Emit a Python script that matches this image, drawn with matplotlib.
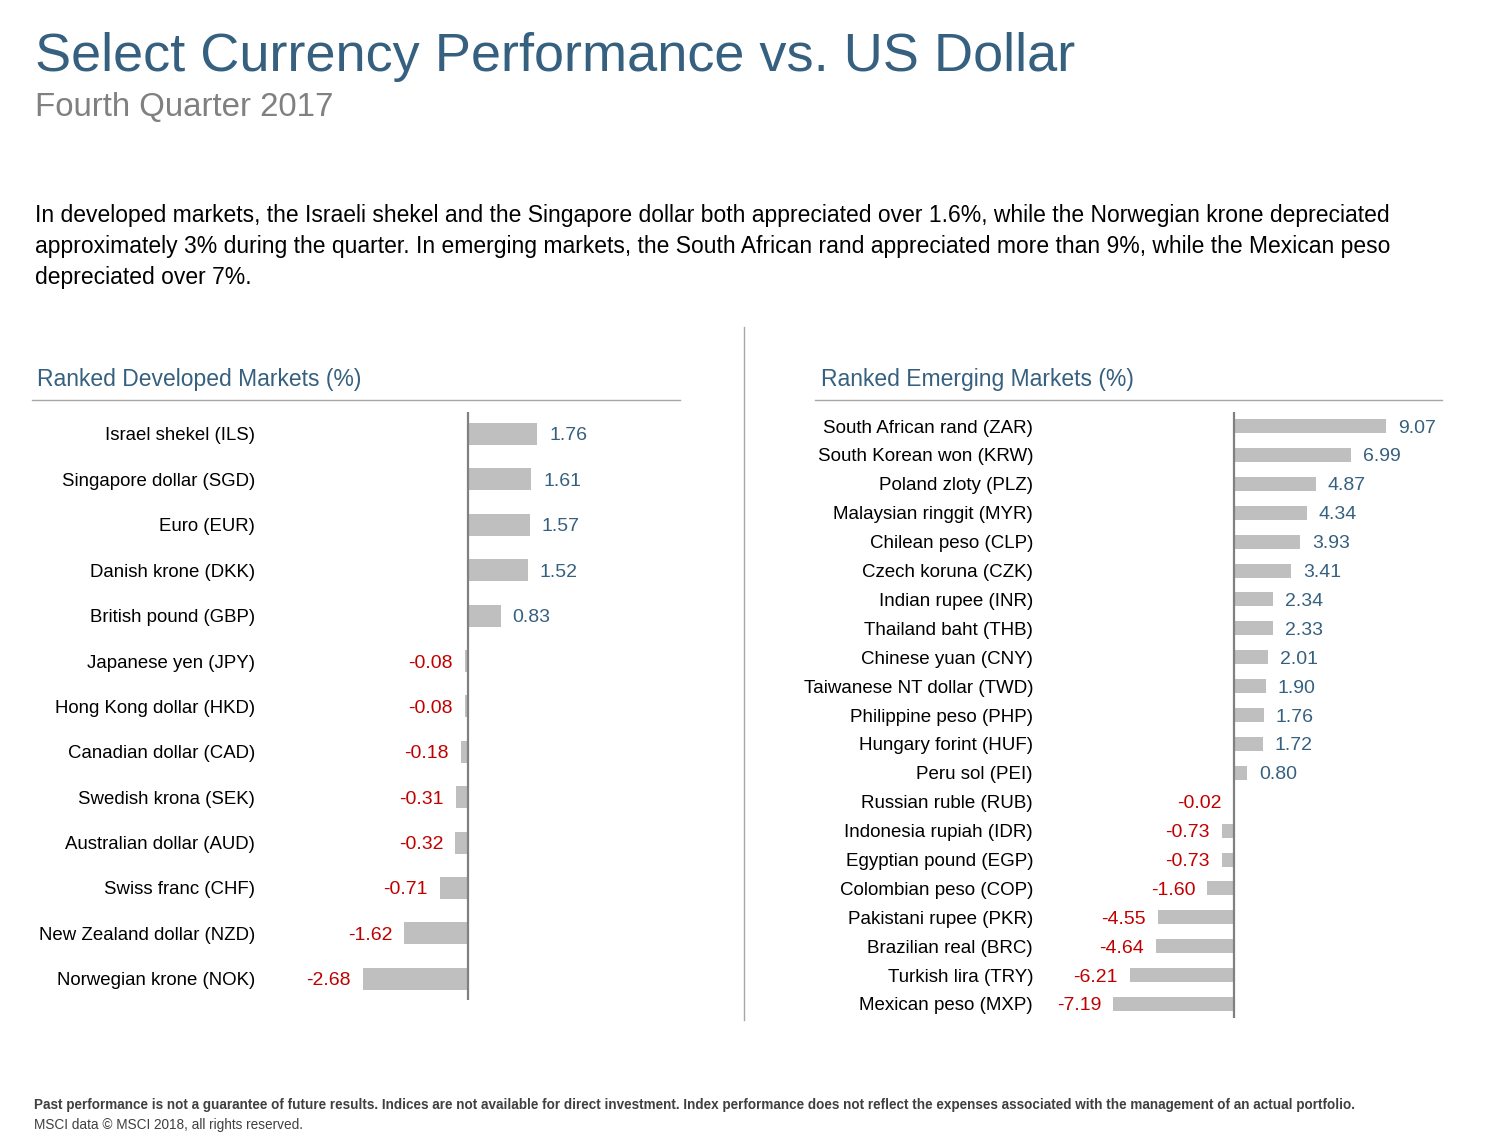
import matplotlib
matplotlib.use("Agg")
import matplotlib.pyplot as plt
from matplotlib.transforms import blended_transform_factory

plt.rcParams['font.family'] = ['Liberation Sans', 'DejaVu Sans']

# data
dev_names = ["Israel shekel (ILS)", "Singapore dollar (SGD)", "Euro (EUR)", "Danish krone (DKK)",
             "British pound (GBP)", "Japanese yen (JPY)", "Hong Kong dollar (HKD)", "Canadian dollar (CAD)",
             "Swedish krona (SEK)", "Australian dollar (AUD)", "Swiss franc (CHF)",
             "New Zealand dollar (NZD)", "Norwegian krone (NOK)"]
dev_vals = [1.76, 1.61, 1.57, 1.52, 0.83, -0.08, -0.08, -0.18, -0.31, -0.32, -0.71, -1.62, -2.68]

em_names = ["South African rand (ZAR)", "South Korean won (KRW)", "Poland zloty (PLZ)",
            "Malaysian ringgit (MYR)", "Chilean peso (CLP)", "Czech koruna (CZK)", "Indian rupee (INR)",
            "Thailand baht (THB)", "Chinese yuan (CNY)", "Taiwanese NT dollar (TWD)",
            "Philippine peso (PHP)", "Hungary forint (HUF)", "Peru sol (PEI)", "Russian ruble (RUB)",
            "Indonesia rupiah (IDR)", "Egyptian pound (EGP)", "Colombian peso (COP)",
            "Pakistani rupee (PKR)", "Brazilian real (BRC)", "Turkish lira (TRY)", "Mexican peso (MXP)"]
em_vals = [9.07, 6.99, 4.87, 4.34, 3.93, 3.41, 2.34, 2.33, 2.01, 1.90, 1.76, 1.72, 0.80,
           -0.02, -0.73, -0.73, -1.60, -4.55, -4.64, -6.21, -7.19]

W, H = 1504, 1144
BLUE = "#36607f"
RED = "#c00000"
GREY_BAR = "#bfbfbf"

fig = plt.figure(figsize=(W / 100, H / 100), dpi=100)


def fx(x):
    return x / W


def fy(y):
    return 1 - y / H


# header
fig.text(fx(35), fy(71), "Select Currency Performance vs. US Dollar", fontsize=39,
         color=BLUE, va='baseline')
fig.text(fx(35), fy(116), "Fourth Quarter 2017", fontsize=23.8, color="#808080", va='baseline')

body = ["In developed markets, the Israeli shekel and the Singapore dollar both appreciated over 1.6%, while the Norwegian krone depreciated",
        "approximately 3% during the quarter. In emerging markets, the South African rand appreciated more than 9%, while the Mexican peso",
        "depreciated over 7%."]
for i, line in enumerate(body):
    fig.text(fx(35), fy(222 + 31 * i), line, fontsize=16.45, color="#000000", va='baseline')

# panel headings and rules
fig.text(fx(37), fy(386), "Ranked Developed Markets (%)", fontsize=16.5, color=BLUE, va='baseline')
fig.text(fx(821), fy(386), "Ranked Emerging Markets (%)", fontsize=16.5, color=BLUE, va='baseline')
fig.add_artist(plt.Line2D([fx(32), fx(680)], [fy(400), fy(400)], color="#a6a6a6", lw=1))
fig.add_artist(plt.Line2D([fx(815), fx(1442)], [fy(400), fy(400)], color="#a6a6a6", lw=1))
fig.add_artist(plt.Line2D([fx(744), fx(744)], [fy(327), fy(1020)], color="#a6a6a6", lw=1))


def panel(names, vals, x0, top, bottom, first, step, ppu, xlim, bar_px, label_x, fs, vfs):
    n = len(vals)
    left = x0 + xlim[0] * ppu
    width = (xlim[1] - xlim[0]) * ppu
    ax = fig.add_axes([fx(left), fy(bottom), width / W, (bottom - top) / H])
    ytop = -(first - top) / step
    ybot = (n - 1) + (bottom - (first + step * (n - 1))) / step
    ax.set_xlim(*xlim)
    ax.set_ylim(ybot, ytop)
    ax.barh(range(n), vals, height=bar_px / step, color=GREY_BAR, zorder=1)
    ax.axvline(0, color="#808080", lw=1.6, zorder=2)
    off = 12 / ppu
    for i, v in enumerate(vals):
        if v >= 0:
            ax.text(v + off, i, f"{v:.2f}", color=BLUE, fontsize=vfs, va='center_baseline', ha='left')
        else:
            ax.text(v - off, i, f"{v:.2f}", color=RED, fontsize=vfs, va='center_baseline', ha='right')
    tr = blended_transform_factory(fig.transFigure, ax.transData)
    for i, nm in enumerate(names):
        ax.text(fx(label_x), i, nm, transform=tr, fontsize=fs, va='center_baseline', ha='right',
                color="#000000", clip_on=False)
    ax.axis('off')
    return ax


panel(dev_names, dev_vals, 468, 412, 1000, 434, 45.4, 39.3, (-4.5, 5.5), 22, 255, 13.4, 14)
panel(em_names, em_vals, 1234, 412, 1018, 426, 28.9, 16.78, (-8.5, 10.5), 14, 1033, 13.5, 14)

# footer
fig.text(fx(34), fy(1109), "Past performance is not a guarantee of future results. Indices are not available for direct investment. Index performance does not reflect the expenses associated with the management of an actual portfolio.",
         fontsize=9.75, fontweight='bold', color="#404040", va='baseline',
         family=['Liberation Sans Narrow', 'Liberation Sans', 'DejaVu Sans'])
fig.text(fx(34), fy(1129), "MSCI data \u00a9 MSCI 2018, all rights reserved.",
         fontsize=9.8, color="#404040", va='baseline',
         family=['Liberation Sans Narrow', 'Liberation Sans', 'DejaVu Sans'])

fig.savefig("out.png", dpi=100)
